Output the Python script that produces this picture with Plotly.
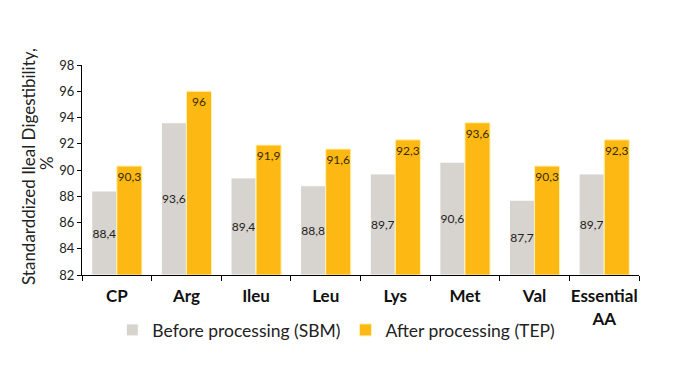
import plotly.graph_objects as go

categories = ["CP", "Arg", "Ileu", "Leu", "Lys", "Met", "Val", "Essential<br>AA"]
before_sbm = [88.4, 93.6, 89.4, 88.8, 89.7, 90.6, 87.7, 89.7]
after_tep = [90.3, 96, 91.9, 91.6, 92.3, 93.6, 90.3, 92.3]
y_ticks = [82, 84, 86, 88, 90, 92, 94, 96, 98]
y_title_lines = ["Standarddized Ileal Digestibility,", "%"]

def fmt(v):
    s = ("%g" % v)
    return s.replace(".", ",")

FONT = "Lato, Open Sans, sans-serif"

fig = go.Figure()
fig.add_trace(go.Bar(
    x=categories, y=[v - 82 for v in before_sbm], base=82,
    name="Before processing (SBM)",
    marker=dict(color="#D7D3CE", line=dict(color="#FFFFFF", width=1)),
    text=[fmt(v) for v in before_sbm], textposition="inside",
    insidetextanchor="middle", textangle=0, constraintext="none",
    textfont=dict(color="#222222", size=12, family=FONT),
    hoverinfo="skip",
))
fig.add_trace(go.Bar(
    x=categories, y=[v - 82 for v in after_tep], base=82,
    name="After processing (TEP)",
    marker=dict(color="#FDB813", line=dict(color="#FFF3B0", width=1)),
    text=[fmt(v) for v in after_tep], textposition="inside",
    insidetextanchor="end", textangle=0, constraintext="none",
    textfont=dict(color="#3A2A00", size=12, family=FONT),
    hoverinfo="skip",
))

for line, shift, yshift in zip(y_title_lines, [-54, -36], [3, 7]):
    fig.add_annotation(
        text=line, xref="paper", yref="paper", x=0, y=0.5,
        xanchor="center", yanchor="middle", xshift=shift, yshift=yshift,
        textangle=-90, showarrow=False,
        font=dict(size=17, color="#222222", family=FONT),
    )

fig.update_layout(
    width=670, height=374,
    margin=dict(l=74, r=39, t=57, b=107),
    paper_bgcolor="white", plot_bgcolor="white",
    barmode="group", bargap=0.28, bargroupgap=0,
    uniformtext=dict(mode=False),
    font=dict(family=FONT, color="#222222"),
    showlegend=True,
    legend=dict(orientation="h", xref="container", yref="container",
                x=0.49, xanchor="center", y=0.139, yanchor="middle",
                font=dict(size=17.5, color="#222222"),
                itemwidth=30, traceorder="normal"),
    xaxis=dict(
        showline=True, linecolor="#000000", linewidth=1,
        ticks="outside", tickson="boundaries", ticklen=5, tickcolor="#000000",
        tickfont=dict(size=17, color="#111111", family=FONT, weight="bold"),
        tickangle=0, ticklabelstandoff=6, showgrid=False, automargin=False,
    ),
    yaxis=dict(
        range=[82, 98], tickvals=y_ticks,
        showline=True, linecolor="#000000", linewidth=1,
        ticks="outside", ticklen=4, tickcolor="#000000",
        tickfont=dict(size=13, color="#222222"),
        showgrid=False, zeroline=False, automargin=False,
    ),
)

fig.write_html("out.html")
